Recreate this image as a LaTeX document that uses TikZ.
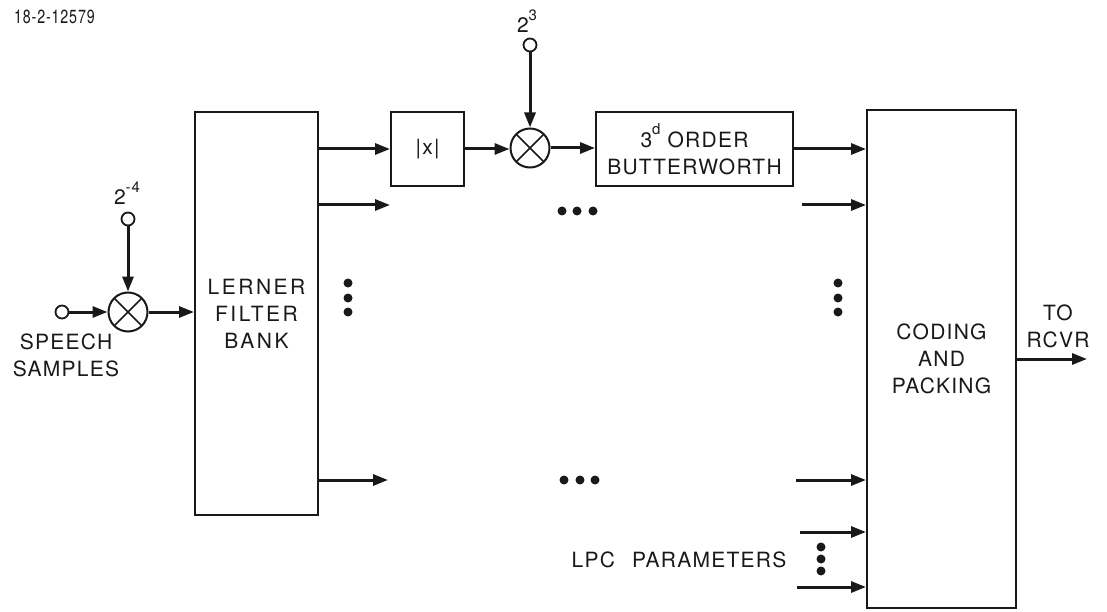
\documentclass[tikz,border=0pt]{standalone}
\usepackage{fontspec}
\setmainfont{TeX Gyre Heros}[LetterSpace=6]
\usetikzlibrary{arrows.meta}
\newcommand\supr[1]{\raisebox{0.6em}{\fontsize{15}{15}\selectfont #1}}
\tikzset{
  lbl/.style={font=\fontsize{21}{27}\selectfont, align=center, inner sep=0pt, text=black!90},
  blk/.style={draw, line width=2pt, inner sep=0pt, lbl},
  conn/.style={line width=3pt, -{Triangle[length=15pt,width=11pt]}},
  term/.style={circle, draw, line width=1.8pt, fill=white, minimum size=13pt, inner sep=0pt},
  mult/.style={circle, draw, line width=2pt, fill=white, minimum size=39pt, inner sep=0pt,
    path picture={\draw[line width=1.5pt] (path picture bounding box.north west) -- (path picture bounding box.south east)
      (path picture bounding box.north east) -- (path picture bounding box.south west);}},
  dot/.style={circle, fill=black!90, minimum size=9pt, inner sep=0pt},
}
\begin{document}
\begin{tikzpicture}[x=1pt,y=-1pt, draw=black!90]
\useasboundingbox (0,0) rectangle (1107,612);
\node[font=\fontsize{19}{19}\selectfont, inner sep=0pt, anchor=west, xscale=0.75, text=black!90] (id) at (14,17) {18-2-12579};

% left input
\node[term] (sin) at (62,312) {};
\node[mult] (m1) at (128,312) {};
\node[term] (p1) at (128,219) {};
\node[lbl, anchor=south] (l1) at (127,205) {2\supr{-4}};
\node[lbl] (sp) at (66,355) {SPEECH\\SAMPLES};

% Lerner filter bank
\node[blk, minimum width=123pt, minimum height=403pt] (lfb) at (256.5,313.5) {\addfontfeatures{LetterSpace=12}LERNER\\\addfontfeatures{LetterSpace=12}FILTER\\\addfontfeatures{LetterSpace=12}BANK};

% top channel
\node[blk, minimum width=73pt, minimum height=74pt] (abs) at (427.5,149) {|x|};
\node[mult] (m2) at (530,148) {};
\node[term] (p2) at (530,45) {};
\node[lbl, anchor=south] (l2) at (527,33) {2\supr{3}};
\node[blk, minimum width=197pt, minimum height=74pt] (bw) at (694.5,149) {3\supr{d} ORDER\\BUTTERWORTH};

% coding and packing
\node[blk, minimum width=149pt, minimum height=498pt] (cod) at (941.5,359) {CODING\\AND\\PACKING};
\node[lbl] (to) at (1058,326) {TO\\RCVR};
\coordinate (out) at (1087,359);

% free ends
\coordinate (o2) at (390,205);
\coordinate (o3) at (388,480);
\coordinate (i2) at (802,205);
\coordinate (i3) at (796,480);
\coordinate (i4) at (800,532);
\coordinate (i5) at (797,587);

% connectors
\draw[conn] (sin.east) -- (m1.west);
\draw[conn] (p1.south) -- (m1.north);
\draw[conn] (m1.east) -- (m1.east -| lfb.west);
\draw[conn] (lfb.east |- abs.west) -- (abs.west);
\draw[conn] (lfb.east |- o2) -- (o2);
\draw[conn] (lfb.east |- o3) -- (o3);
\draw[conn] (abs.east) -- (abs.east -| m2.west);
\draw[conn] (p2.south) -- (m2.north);
\draw[conn] (m2.east) -- (m2.east -| bw.west);
\draw[conn] (bw.east) -- (bw.east -| cod.west);
\draw[conn] (i2) -- (i2 -| cod.west);
\draw[conn] (i3) -- (i3 -| cod.west);
\draw[conn] (i4) -- (i4 -| cod.west);
\draw[conn] (i5) -- (i5 -| cod.west);
\draw[conn] (cod.east |- out) -- (out);

% ellipses
\foreach \x/\n in {562/a,577/b,593/c} \node[dot] (ht\n) at (\x,211) {};
\foreach \x/\n in {564/a,580/b,595/c} \node[dot] (hb\n) at (\x,480) {};
\foreach \y/\n in {283/a,298/b,312/c} \node[dot] (vl\n) at (348,\y) {};
\foreach \y/\n in {283/a,298/b,312/c} \node[dot] (vr\n) at (838,\y) {};
\foreach \y/\n in {547/a,559/b,571/c} \node[dot] (vp\n) at (821,\y) {};
\node[lbl] (lpc) at (679,560) {LPC\hspace{10pt} PARAMETERS};
\end{tikzpicture}
\end{document}
